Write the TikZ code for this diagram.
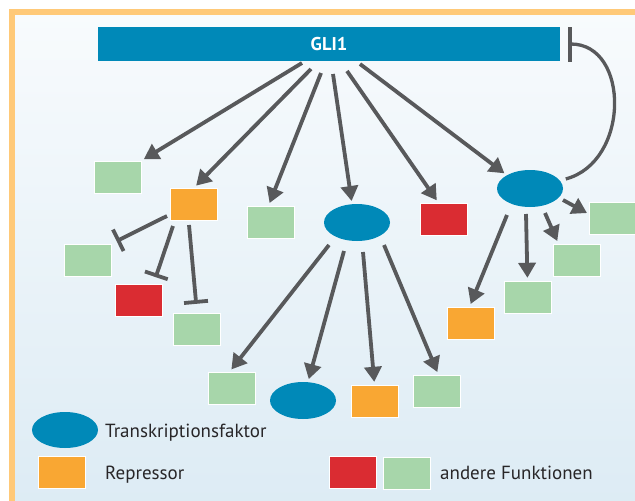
\documentclass[tikz,border=0pt]{standalone}
\usepackage{fontspec}
\setmainfont{PT Sans}
\usetikzlibrary{arrows.meta,shapes.geometric,calc}
\definecolor{cblue}{RGB}{0,137,184}
\definecolor{cgreen}{RGB}{167,214,170}
\definecolor{corange}{RGB}{249,167,51}
\definecolor{cred}{RGB}{218,44,50}
\definecolor{cgrey}{RGB}{88,89,91}
\definecolor{cframe}{RGB}{255,201,120}
\definecolor{bgtop}{RGB}{248,251,253}
\definecolor{bgbot}{RGB}{220,235,244}
\definecolor{ctext}{RGB}{40,38,40}
\tikzset{
  box/.style={rectangle, minimum width=47pt, minimum height=32pt, inner sep=0pt, draw=white, line width=0.4pt},
  gbox/.style={box, fill=cgreen},
  obox/.style={box, fill=corange},
  rbox/.style={box, fill=cred},
  tf/.style={ellipse, fill=cblue, minimum width=66pt, minimum height=37pt, inner sep=0pt},
  act/.style={draw=cgrey, line width=3.8pt, -{Triangle[length=15pt, width=17pt]}, shorten >=3pt},
  inh/.style={draw=cgrey, line width=3.8pt, -{Bar[width=24pt, line width=3.8pt]}},
  legtext/.style={anchor=base west, font=\fontsize{19}{22}\selectfont, text=ctext, inner sep=0pt}
}
\begin{document}
\begin{tikzpicture}[x=1pt, y=-1pt]
\useasboundingbox (0,0) rectangle (635,501);
\clip (0,0) rectangle (635,501);
\fill[white] (0,0) rectangle (635,501);
\shade[top color=bgtop, bottom color=bgbot] (12,12) rectangle (660,520);
\draw[cframe, line width=6pt] (12,12) rectangle (660,520);

% main bar
\node[rectangle, fill=cblue, minimum width=462pt, minimum height=34pt, inner sep=0pt,
      font=\bfseries\fontsize{18.5}{20}\selectfont, text=white] (gli) at (329,44) {GLI1};

% targets
\node[gbox] (g1) at (117.5,177) {};
\node[obox] (o1) at (194,204) {};
\node[gbox] (g2) at (270.5,222) {};
\node[gbox] (gL) at (87.5,260) {};
\node[rbox] (rL) at (138.5,300) {};
\node[gbox] (gB) at (197,329) {};
\node[tf] (e1) at (357,222.5) {};
\node[rbox] (r1) at (443.5,219) {};
\node[tf] (e2) at (530,188.5) {};
\node[gbox] (gR1) at (612.5,218) {};
\node[gbox] (gR2) at (576.5,260) {};
\node[gbox] (gR3) at (527.5,297) {};
\node[obox] (oR) at (470.5,323) {};
\node[gbox] (g3) at (231.5,388) {};
\node[tf] (e3) at (303,400.5) {};
\node[obox] (o2) at (374.5,401) {};
\node[gbox] (g4) at (436.5,391) {};

% start points of arrows
\coordinate (s1) at (302,63);
\coordinate (s2) at (311,69);
\coordinate (s3) at (321,73);
\coordinate (s4) at (333,74);
\coordinate (s5) at (347,71);
\coordinate (s6) at (360,64);
\coordinate (m1) at (329,245);
\coordinate (m2) at (344,251);
\coordinate (m3) at (363,252);
\coordinate (m4) at (384,245);
\coordinate (n1) at (563,200);
\coordinate (n2) at (545,213);
\coordinate (n3) at (526,214);
\coordinate (n4) at (507,215);
\coordinate (i1) at (167,216);
\coordinate (i2) at (173,226);
\coordinate (i3) at (189,225);

% GLI1 arrows
\draw[act] (s1) -- (g1.north east);
\draw[act] (s2) -- (o1.north);
\draw[act] (s3) -- ([xshift=-2pt]g2.north);
\draw[act] (s4) -- (e1.105);
\draw[act] (s5) -- ([xshift=-5pt]r1.north);
\draw[act] (s6) -- (e2.150);

% repressor inhibitions
\draw[inh, shorten >=6pt] (i1) -- (gL.north east);
\draw[inh, shorten >=7pt] (i2) -- ([xshift=15pt]rL.north);
\draw[inh, shorten >=9pt] (i3) -- (gB.north);

% middle TF arrows
\draw[act] (m1) -- ([xshift=-2pt]g3.north);
\draw[act] (m2) -- (e3.75);
\draw[act] (m3) -- (o2.north);
\draw[act] (m4) -- ([xshift=2pt]g4.north);

% right TF arrows
\draw[act, shorten >=2pt] (n1) -- ([yshift=4pt]gR1.west);
\draw[act] (n2) -- ([xshift=-18pt]gR2.north);
\draw[act] (n3) -- (gR3.north);
\draw[act] (n4) -- ([xshift=-1pt]oR.north);

% feedback
\draw[draw=cgrey, line width=3.3pt, -{Bar[width=35pt, line width=3.6pt]}, shorten <=6pt]
  (e2.15) .. controls (630,162) and (630,44) .. ([xshift=8pt]gli.east);

% legend
\node[tf, minimum height=36pt] (le) at (65,430) {};
\node[obox] (lo) at (61.5,472) {};
\node[rbox] (lr) at (352.5,472) {};
\node[gbox] (lg) at (406.5,473) {};
\node[legtext] (t1) at (105,437) {Transkriptionsfaktor};
\node[legtext] (t2) at (105,479) {Repressor};
\node[legtext] (t3) at (440,479) {andere Funktionen};
\end{tikzpicture}
\end{document}
